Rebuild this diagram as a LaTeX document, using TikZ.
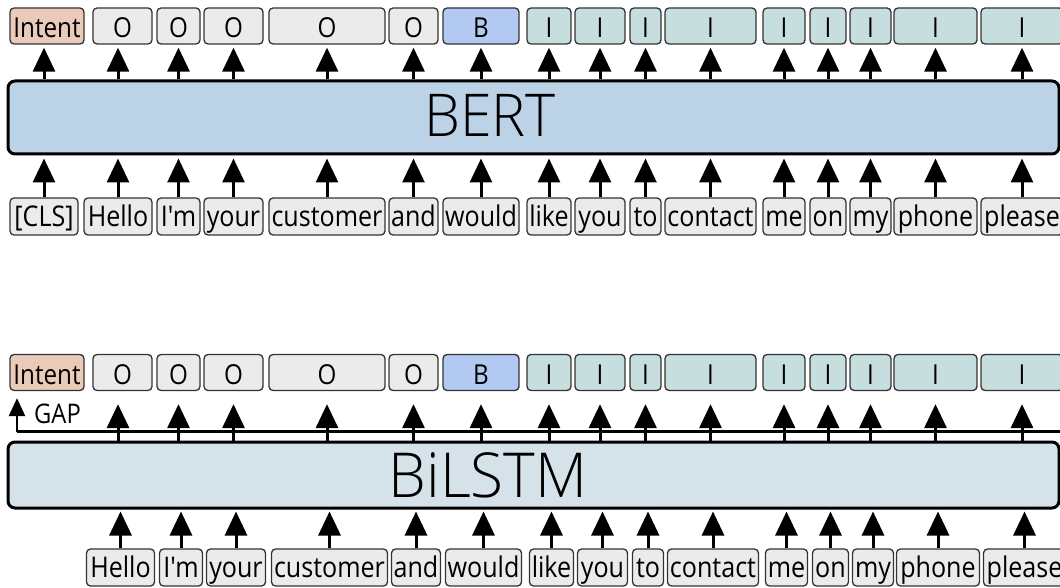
\documentclass[tikz,border=0pt]{standalone}
\usepackage{fontspec}
\newfontfamily\opf{Open Sans}[FakeStretch=0.88]
\newfontfamily\opbig{Open Sans Light}[FakeStretch=0.97]
\usetikzlibrary{arrows.meta}
\definecolor{intentc}{HTML}{EACBBA}
\definecolor{oc}{HTML}{EBEBEB}
\definecolor{bc}{HTML}{B2C9F1}
\definecolor{ic}{HTML}{C6DEDE}
\definecolor{wordc}{HTML}{EBEBEB}
\definecolor{bertc}{HTML}{BCD3E7}
\definecolor{lstmc}{HTML}{D5E2EA}
\definecolor{edgec}{HTML}{333333}
\tikzset{
  tok/.style={draw=edgec, line width=1.3pt, rounded corners=4pt, inner sep=0pt,
    minimum height=36pt, text height=28pt, text depth=4pt,
    font=\opf\fontsize{27.5}{30}\selectfont, text=black},
  wordbox/.style={tok, fill=wordc, minimum height=37pt, text height=26pt, text depth=6pt,
    font=\opf\fontsize{28.5}{32}\selectfont},
  obox/.style={tok, fill=oc},
  bbox/.style={tok, fill=bc},
  ibox/.style={tok, fill=ic},
  intentbox/.style={tok, fill=intentc},
  bigbox/.style={draw=black, line width=3pt, rounded corners=7pt, inner sep=0pt,
    minimum width=1051pt},
  bigtext/.style={font=\opbig\fontsize{59}{62}\selectfont, inner sep=0pt, anchor=base},
  arr/.style={line width=3pt, -{Triangle[length=24pt,width=22pt]}},
  gaparr/.style={line width=2.5pt, -{Triangle[length=18pt,width=16pt]}},
}
\begin{document}
\begin{tikzpicture}[x=1pt,y=-1pt]
\useasboundingbox (0,0) rectangle (1060,588);
\clip (0,0) rectangle (1060,588);
% ---------- upper: BERT ----------
\node[bigbox, fill=bertc, minimum height=73pt] (bert) at (533.5,117.5) {};
\node[bigtext] (berttxt) at (490,136.5) {BERT};
% labels
\node[intentbox, minimum width=74pt] (a1) at (47,26) {Intent};
\node[obox, minimum width=59pt] (a2) at (122.5,26) {O};
\node[obox, minimum width=43pt] (a3) at (178.5,26) {O};
\node[obox, minimum width=59pt] (a4) at (233.5,26) {O};
\node[obox, minimum width=116pt] (a5) at (327,26) {O};
\node[obox, minimum width=49pt] (a6) at (413.5,26) {O};
\node[bbox, minimum width=76pt] (a7) at (481,26) {B};
\node[ibox, minimum width=44pt] (a8) at (549,26) {I};
\node[ibox, minimum width=50pt] (a9) at (600,26) {I};
\node[ibox, minimum width=31pt] (a10) at (645.5,26) {I};
\node[ibox, minimum width=91pt] (a11) at (710.5,26) {I};
\node[ibox, minimum width=42pt] (a12) at (784,26) {I};
\node[ibox, minimum width=36pt] (a13) at (828,26) {I};
\node[ibox, minimum width=41pt] (a14) at (870.5,26) {I};
\node[ibox, minimum width=83pt] (a15) at (935.5,26) {I};
\node[ibox, minimum width=82pt] (a16) at (1022,26) {I};
% words
\node[wordbox, minimum width=68pt] (w1) at (44,216.5) {[CLS]};
\node[wordbox, minimum width=68pt] (w2) at (118,216.5) {Hello};
\node[wordbox, minimum width=43pt] (w3) at (178.5,216.5) {I'm};
\node[wordbox, minimum width=59pt] (w4) at (233.5,216.5) {your};
\node[wordbox, minimum width=116pt] (w5) at (327,216.5) {customer};
\node[wordbox, minimum width=49pt] (w6) at (413.5,216.5) {and};
\node[wordbox, minimum width=76pt] (w7) at (481,216.5) {would};
\node[wordbox, minimum width=44pt] (w8) at (549,216.5) {like};
\node[wordbox, minimum width=50pt] (w9) at (600,216.5) {you};
\node[wordbox, minimum width=31pt] (w10) at (645.5,216.5) {to};
\node[wordbox, minimum width=91pt] (w11) at (710.5,216.5) {contact};
\node[wordbox, minimum width=42pt] (w12) at (784,216.5) {me};
\node[wordbox, minimum width=36pt] (w13) at (828,216.5) {on};
\node[wordbox, minimum width=41pt] (w14) at (870.5,216.5) {my};
\node[wordbox, minimum width=83pt] (w15) at (935.5,216.5) {phone};
\node[wordbox, minimum width=82pt] (w16) at (1022,216.5) {please};
\foreach \i in {1,...,16}{
  \draw[arr, shorten >=3pt] (w\i.north) -- (w\i |- bert.south);
  \draw[arr, shorten >=3pt] (w\i |- bert.north) -- (w\i |- a\i.south);
}
% ---------- lower: BiLSTM ----------
\node[bigbox, fill=lstmc, minimum height=66pt] (lstm) at (533.5,475) {};
\node[bigtext, font=\opbig\fontsize{62}{65}\selectfont] (lstmtxt) at (488,497) {BiLSTM};
\node[intentbox, minimum width=74pt] (b1) at (47,372.5) {Intent};
\node[obox, minimum width=59pt] (b2) at (122.5,372.5) {O};
\node[obox, minimum width=43pt] (b3) at (178.5,372.5) {O};
\node[obox, minimum width=59pt] (b4) at (233.5,372.5) {O};
\node[obox, minimum width=116pt] (b5) at (327,372.5) {O};
\node[obox, minimum width=49pt] (b6) at (413.5,372.5) {O};
\node[bbox, minimum width=76pt] (b7) at (481,372.5) {B};
\node[ibox, minimum width=44pt] (b8) at (549,372.5) {I};
\node[ibox, minimum width=50pt] (b9) at (600,372.5) {I};
\node[ibox, minimum width=31pt] (b10) at (645.5,372.5) {I};
\node[ibox, minimum width=91pt] (b11) at (710.5,372.5) {I};
\node[ibox, minimum width=42pt] (b12) at (784,372.5) {I};
\node[ibox, minimum width=36pt] (b13) at (828,372.5) {I};
\node[ibox, minimum width=41pt] (b14) at (870.5,372.5) {I};
\node[ibox, minimum width=83pt] (b15) at (935.5,372.5) {I};
\node[ibox, minimum width=82pt] (b16) at (1022,372.5) {I};
\node[wordbox, minimum width=68pt] (v2) at (120.5,567.5) {Hello};
\node[wordbox, minimum width=43pt] (v3) at (181,567.5) {I'm};
\node[wordbox, minimum width=59pt] (v4) at (236,567.5) {your};
\node[wordbox, minimum width=116pt] (v5) at (329.5,567.5) {customer};
\node[wordbox, minimum width=49pt] (v6) at (416,567.5) {and};
\node[wordbox, minimum width=76pt] (v7) at (483.5,567.5) {would};
\node[wordbox, minimum width=44pt] (v8) at (551.5,567.5) {like};
\node[wordbox, minimum width=50pt] (v9) at (602.5,567.5) {you};
\node[wordbox, minimum width=31pt] (v10) at (648,567.5) {to};
\node[wordbox, minimum width=91pt] (v11) at (713,567.5) {contact};
\node[wordbox, minimum width=42pt] (v12) at (786.5,567.5) {me};
\node[wordbox, minimum width=36pt] (v13) at (830.5,567.5) {on};
\node[wordbox, minimum width=41pt] (v14) at (873,567.5) {my};
\node[wordbox, minimum width=83pt] (v15) at (938,567.5) {phone};
\node[wordbox, minimum width=82pt] (v16) at (1024.5,567.5) {please};
% GAP line
\coordinate (gapL) at (17,431.5);
\coordinate (gapR) at (1075,431.5);
\draw[line width=2.8pt] (gapL) -- (gapR);
\draw[gaparr, shorten >=7pt] (gapL) -- (gapL |- b1.south);
\node[font=\opf\fontsize{27}{30}\selectfont, anchor=base west, inner sep=0pt] (gaptxt) at (34,423) {GAP};
\foreach \i in {2,...,16}{
  \draw[arr, shorten >=2pt] (v\i.north) -- (v\i |- lstm.south);
  \draw[arr, shorten >=13pt] (w\i |- lstm.north) -- (w\i |- b\i.south);
}
\end{tikzpicture}
\end{document}
